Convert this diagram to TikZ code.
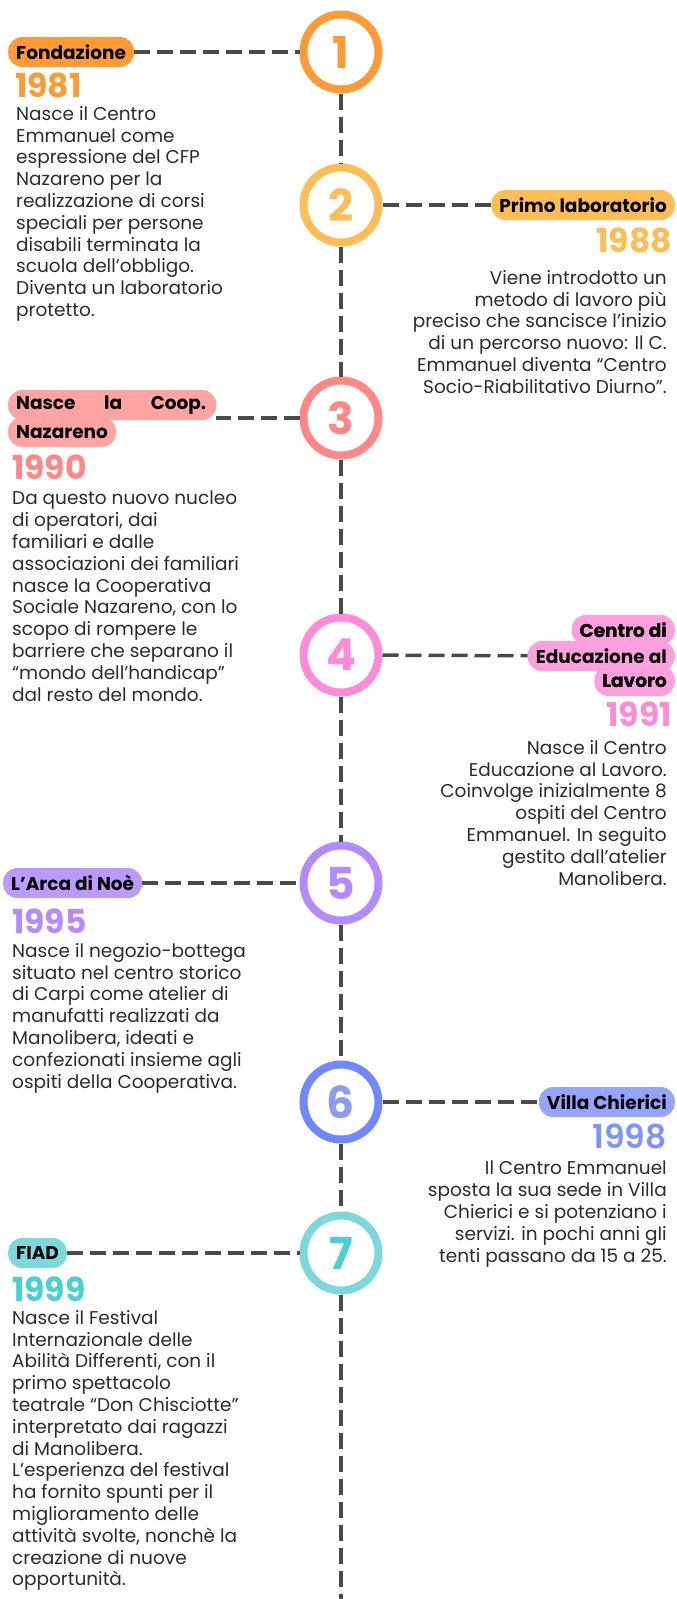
\documentclass[tikz,border=0pt]{standalone}
\usepackage{fontspec}
\setmainfont{Poppins}
\newfontfamily\semifont{Poppins SemiBold}
\usepackage{tikz}
\usetikzlibrary{calc}

\definecolor{orangeC}{HTML}{FF9A35}
\definecolor{goldC}{HTML}{FFBE55}
\definecolor{salmonC}{HTML}{FF8787}
\definecolor{salmonP}{HTML}{FFA3A3}
\definecolor{pinkC}{HTML}{FF8AD6}
\definecolor{pinkP}{HTML}{FFA0DE}
\definecolor{violetC}{HTML}{B38BFF}
\definecolor{violetP}{HTML}{BC9BFF}
\definecolor{blueC}{HTML}{6F87FF}
\definecolor{blueP}{HTML}{94A5FF}
\definecolor{blueN}{HTML}{8E9CF0}
\definecolor{blueY}{HTML}{7E93FF}
\definecolor{tealC}{HTML}{7DD8DB}
\definecolor{tealN}{HTML}{48D0D4}
\definecolor{inkC}{HTML}{2B2B2B}
\definecolor{lineC}{HTML}{4A4A4A}

\begin{document}
\begin{tikzpicture}[x=1pt,y=-1pt,
    step circ/.style={circle,draw=#1,fill=white,line width=8pt,minimum size=75pt,inner sep=0pt,
      font=\bfseries\fontsize{44}{44}\selectfont},
    pill/.style={fill=#1,rounded corners=14pt,minimum height=30pt,inner xsep=8pt,inner ysep=0pt,
      text=black,font=\bfseries\fontsize{18.5}{20}\selectfont},
    pill text/.style={text=black,inner sep=0pt,font=\bfseries\fontsize{18.5}{20}\selectfont},
    year/.style={text=#1,inner sep=0pt,font=\bfseries\fontsize{33}{33}\selectfont},
    body/.style={text=inkC,inner sep=0pt,font=\fontsize{18.5}{21.8}\selectfont},
    link/.style={draw=lineC,line width=3.5pt,dash pattern=on 16pt off 7pt}]
    \useasboundingbox (0,0) rectangle (677,1599);

    % timeline circles
    \node[step circ=orangeC, text=orangeC] (c1) at (341,  52) {1};
    \node[step circ=goldC,   text=goldC]   (c2) at (341, 205) {2};
    \node[step circ=salmonC, text=salmonC] (c3) at (341, 418) {3};
    \node[step circ=pinkC,   text=pinkC]   (c4) at (341, 655) {4};
    \node[step circ=violetC, text=violetC] (c5) at (341, 883) {5};
    \node[step circ=blueC,   text=blueN]   (c6) at (341,1102) {6};
    \node[step circ=tealC,   text=tealN]   (c7) at (341,1253) {7};
    \coordinate (end) at (341,1599);

    \draw (c1) edge[link] (c2);
    \draw (c2) edge[link] (c3);
    \draw (c3) edge[link] (c4);
    \draw (c4) edge[link] (c5);
    \draw (c5) edge[link] (c6);
    \draw (c6) edge[link] (c7);
    \draw (c7) edge[link] (end);

    % 1981
    \node[pill=orangeC, anchor=west] (l1) at (8,52) {Fondazione};
    \node[year=orangeC, anchor=north west] (y1) at (15,73) {1981};
    \node[body, anchor=north west, align=left] (t1) at (16,106)
      {Nasce il Centro\\Emmanuel come\\espressione del CFP\\Nazareno per la\\realizzazione di corsi\\speciali per persone\\disabili terminata la\\scuola dell’obbligo.\\Diventa un laboratorio\\protetto.};
    \draw (l1) edge[link] (c1);

    % 1988
    \node[pill=goldC, anchor=east] (l2) at (675,205) {Primo laboratorio};
    \node[year=goldC, anchor=north east] (y2) at (672,228) {1988};
    \node[body, anchor=north east, align=right] (t2) at (667,270)
      {Viene introdotto un\\metodo di lavoro più\\preciso che sancisce l’inizio\\di un percorso nuovo: Il C.\\Emmanuel diventa “Centro\\Socio-Riabilitativo Diurno”.};
    \draw (c2) edge[link] (l2);

    % 1990
    \node[pill=salmonP, anchor=west, minimum width=208pt] (l3a) at (8,405) {};
    \node[pill=salmonP, anchor=west] (l3b) at (8,432) {Nazareno};
    \node[pill text, anchor=west, text width=190pt] (l3t) at (16,405) {Nasce\hfill la\hfill Coop.};
    \draw (c3.west) edge[link] (c3.west -| l3a.east);
    \node[year=salmonC, anchor=north west] (y3) at (12,455) {1990};
    \node[body, anchor=north west, align=left] (t3) at (12,491)
      {Da questo nuovo nucleo\\di operatori, dai\\familiari e dalle\\associazioni dei familiari\\nasce la Cooperativa\\Sociale Nazareno, con lo\\scopo di rompere le\\barriere che separano il\\“mondo dell’handicap”\\dal resto del mondo.};

    % 1991
    \node[pill=pinkP, anchor=east] (l4a) at (675,630) {Centro di};
    \node[pill=pinkP, anchor=east] (l4c) at (675,681) {Lavoro};
    \node[pill=pinkP, anchor=east] (l4b) at (675,656) {Educazione al};
    \node[pill text, anchor=east] (l4t) at (667,630) {Centro di};
    \node[pill text, anchor=east] (l4u) at (667,681) {Lavoro};
    \draw (c4) edge[link] (l4b);
    \node[year=pinkC, anchor=north east] (y4) at (672,702) {1991};
    \node[body, anchor=north east, align=right] (t4) at (667,740)
      {Nasce il Centro\\Educazione al Lavoro.\\Coinvolge inizialmente 8\\ospiti del Centro\\Emmanuel. In seguito\\gestito dall’atelier\\Manolibera.};

    % 1995
    \node[pill=violetP, anchor=west] (l5) at (3,883) {L’Arca di Noè};
    \draw (l5) edge[link] (c5);
    \node[year=violetC, anchor=north west] (y5) at (12,909) {1995};
    \node[body, anchor=north west, align=left] (t5) at (12,943)
      {Nasce il negozio-bottega\\situato nel centro storico\\di Carpi come atelier di\\manufatti realizzati da\\Manolibera, ideati e\\confezionati insieme agli\\ospiti della Cooperativa.};

    % 1998
    \node[pill=blueP, anchor=east] (l6) at (675,1102) {Villa Chierici};
    \draw (c6) edge[link] (l6);
    \node[year=blueY, anchor=north east, font=\semifont\fontsize{33}{33}\selectfont] (y6) at (667,1124) {1998};
    \node[body, anchor=north east, align=right] (t6) at (667,1161)
      {Il Centro Emmanuel\\sposta la sua sede in Villa\\Chierici e si potenziano i\\servizi. in pochi anni gli\\tenti passano da 15 a 25.};

    % 1999
    \node[pill=tealC, anchor=west] (l7) at (8,1253) {FIAD};
    \draw (l7) edge[link] (c7);
    \node[year=tealN, anchor=north west] (y7) at (12,1277) {1999};
    \node[body, anchor=north west, align=left] (t7) at (12,1310)
      {Nasce il Festival\\Internazionale delle\\Abilità Differenti, con il\\primo spettacolo\\teatrale “Don Chisciotte”\\interpretato dai ragazzi\\di Manolibera.\\L’esperienza del festival\\ha fornito spunti per il\\miglioramento delle\\attività svolte, nonchè la\\creazione di nuove\\opportunità.};
  \end{tikzpicture}
\end{document}
